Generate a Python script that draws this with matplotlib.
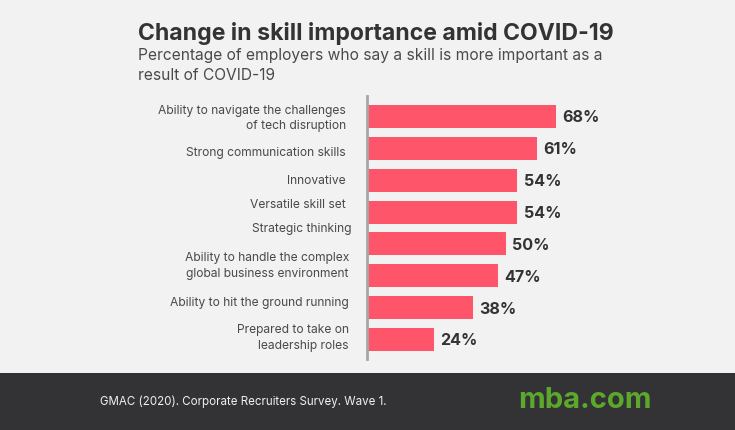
import matplotlib
matplotlib.use("Agg")
import matplotlib.pyplot as plt
from matplotlib.patches import Rectangle

plt.rcParams['font.family'] = ['Inter', 'DejaVu Sans']

skills = [
    "Ability to navigate the challenges\nof tech disruption",
    "Strong communication skills",
    "Innovative",
    "Versatile skill set",
    "Strategic thinking",
    "Ability to handle the complex\nglobal business environment",
    "Ability to hit the ground running",
    "Prepared to take on\nleadership roles",
]
percent = [68, 61, 54, 54, 50, 47, 38, 24]

# label layout in pixels, the labels do not sit level with the bars
label_right = [346, 346, 346, 346, 351, 349, 349, 349]
label_mid = [118.5, 153, 180.5, 204.5, 229, 266, 303, 338]

W, H = 735, 430
BG = "#f2f2f2"
DARK = "#333335"

def fx(px):
    return px / W

def fy(px):
    return 1 - px / H

fig = plt.figure(figsize=(W / 100, H / 100), dpi=100, facecolor=BG)

# footer band
fig.add_artist(Rectangle((0, 0), 1, fy(373), transform=fig.transFigure, color=DARK, lw=0))

# axes spans x 367-700, y 96-359
ax = fig.add_axes([fx(367), fy(359), fx(333), (359 - 96) / H])
ax.set_facecolor("none")
ax.barh(range(len(percent)), percent, height=0.72, color="#ff556a", edgecolor="none")
ax.set_xlim(0, 333 / 2.78)
ax.set_ylim(7.612, -0.643)
for s in ["top", "right", "bottom"]:
    ax.spines[s].set_visible(False)
ax.spines["left"].set_color("#a6a6a6")
ax.spines["left"].set_linewidth(2)
ax.set_xticks([])
ax.set_yticks([])

for i, v in enumerate(percent):
    ax.annotate(f"{v}%", (v, i), xytext=(4.6, -1), textcoords="offset points",
                va="center", ha="left", fontsize=11.6, fontweight="bold", color=DARK)

for name, r, m in zip(skills, label_right, label_mid):
    fig.text(fx(r), fy(m), name, ha="right", va="center", fontsize=8.7,
             color="#4a4a4c", linespacing=1.35)

fig.text(fx(138), fy(33.5), "Change in skill importance amid COVID-19", fontsize=16.6,
         fontweight="bold", color=DARK, va="center", ha="left")
fig.text(fx(138), fy(55.5), "Percentage of employers who say a skill is more important as a",
         fontsize=11.2, color="#4a4a4c", va="center", ha="left")
fig.text(fx(138), fy(75), "result of COVID-19", fontsize=11.2, color="#4a4a4c", va="center", ha="left")

fig.text(fx(100), fy(401.5), "GMAC (2020). Corporate Recruiters Survey. Wave 1.", fontsize=8.3,
         color="#f0f0f0", va="center", ha="left")
fig.text(fx(518), fy(401), "mba.com", fontsize=21, fontweight="bold", color="#5ca82c",
         va="center", ha="left")

fig.savefig("out.png", dpi=100, facecolor=BG)
